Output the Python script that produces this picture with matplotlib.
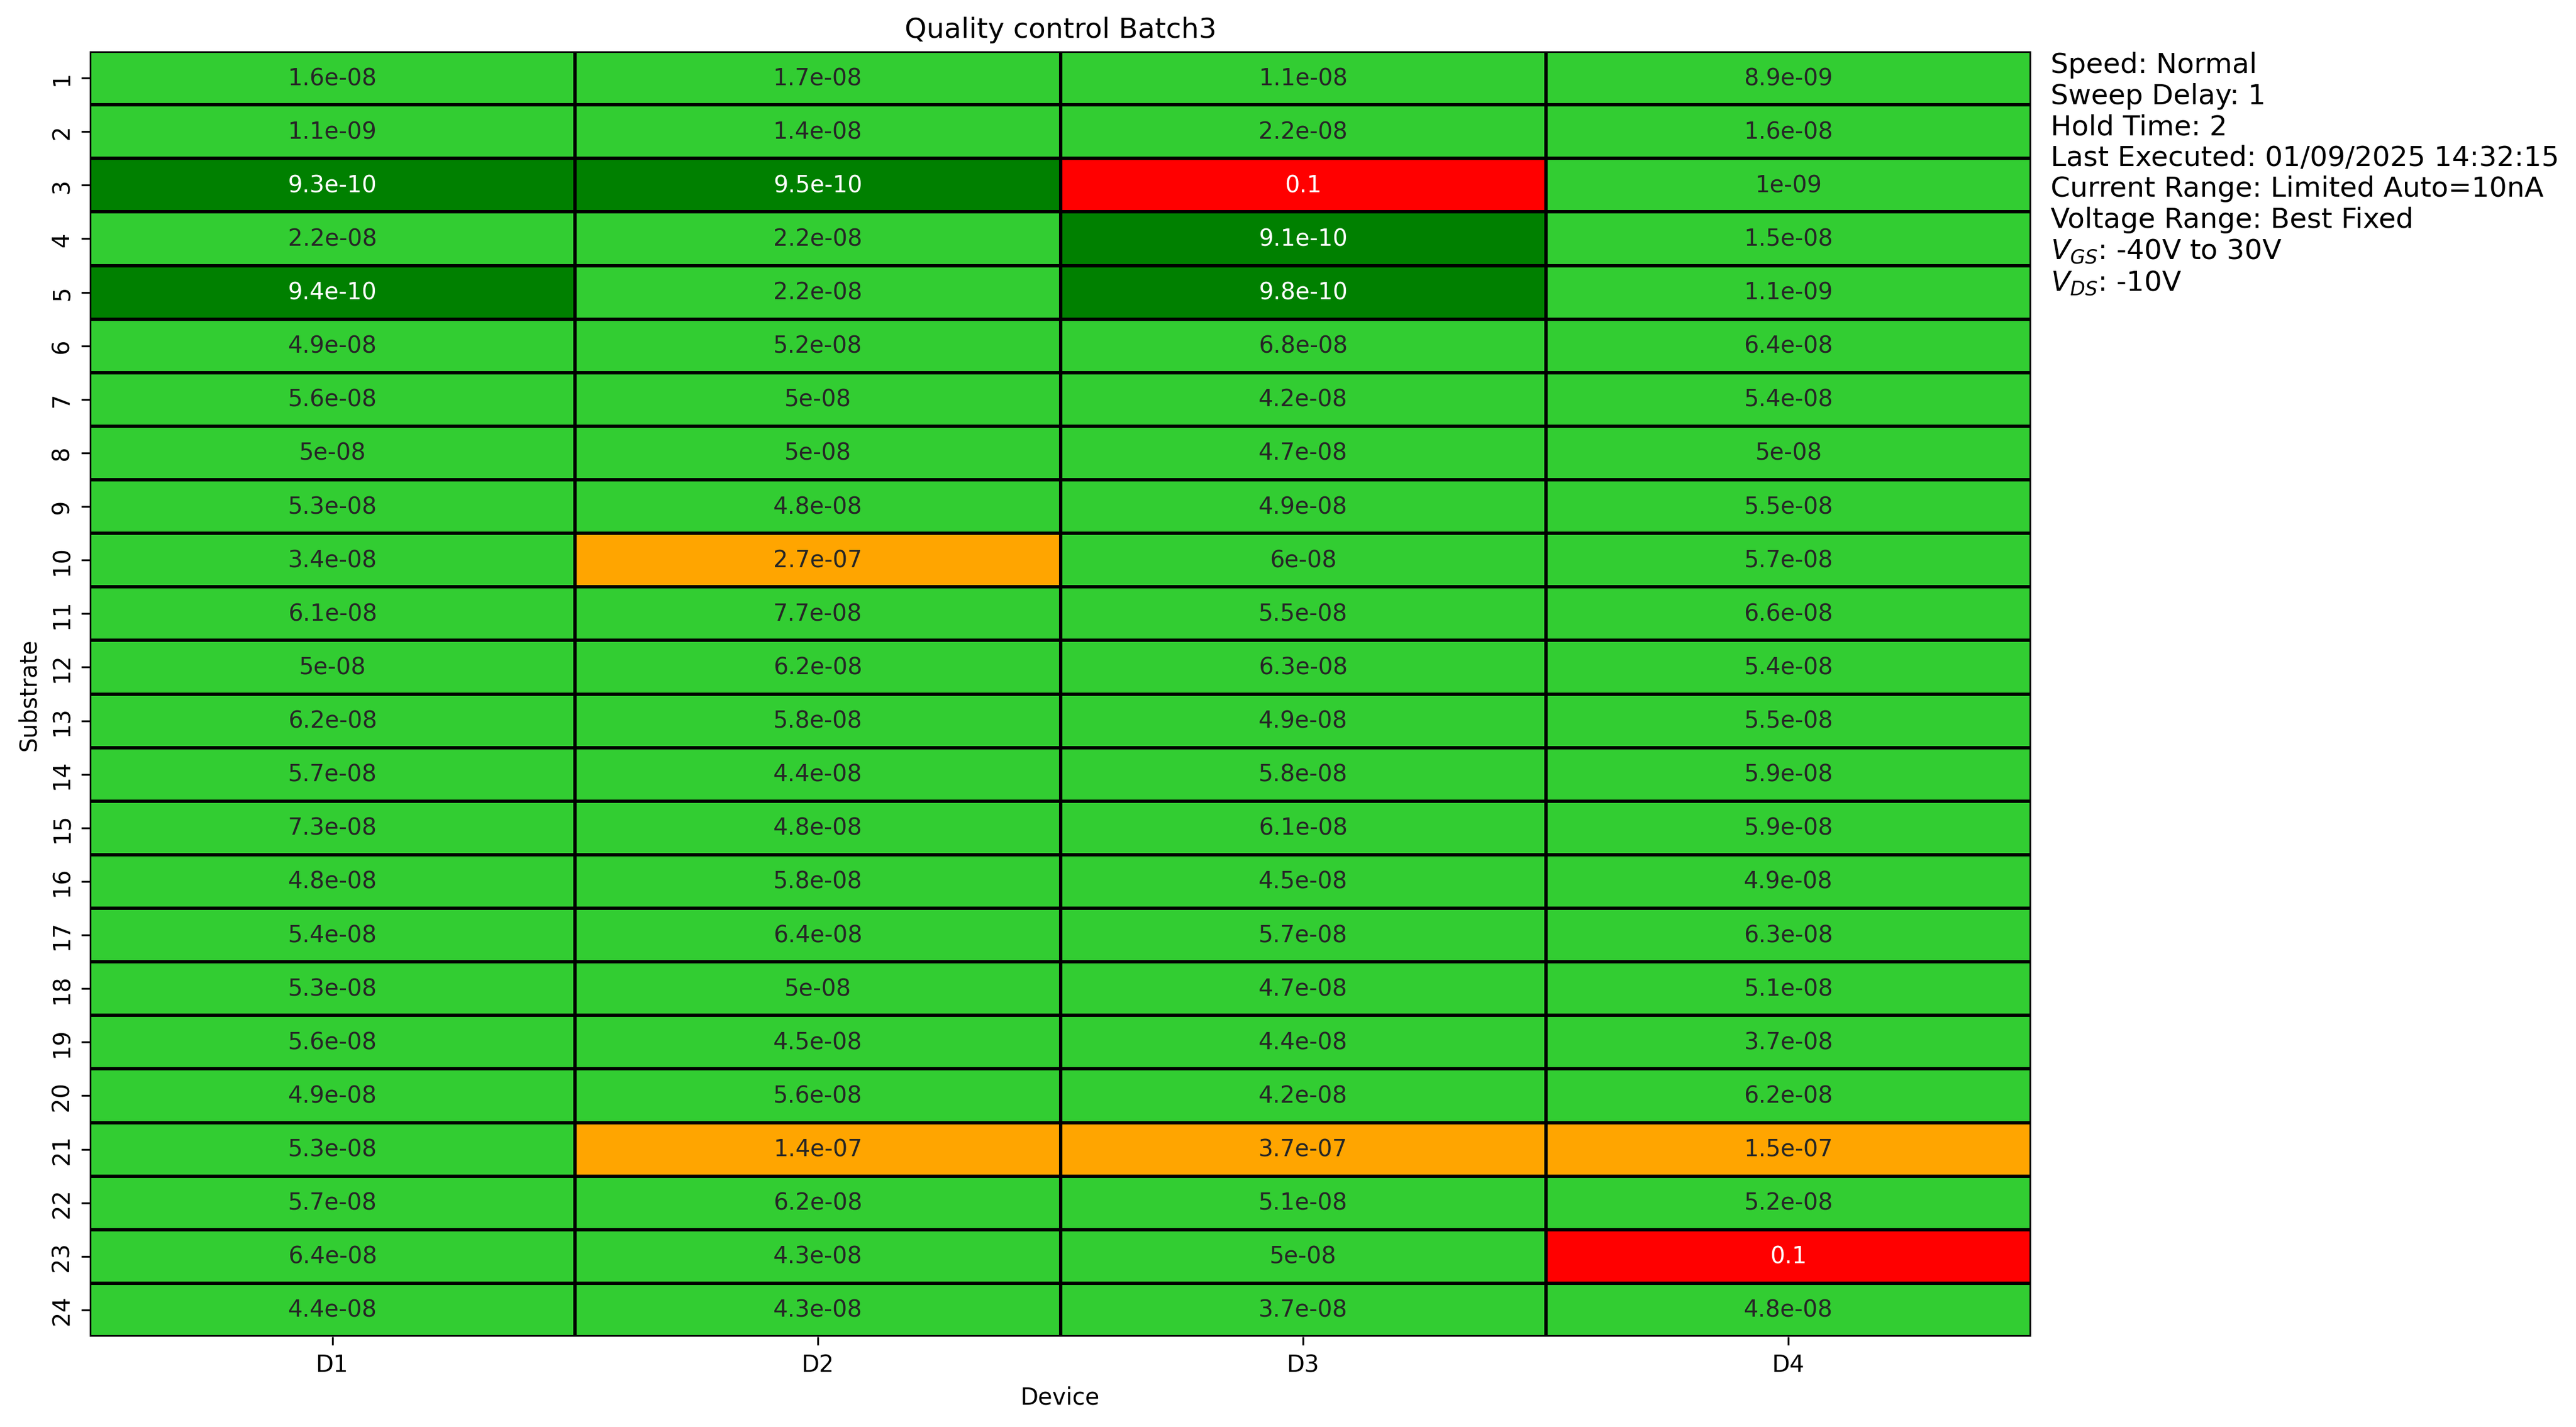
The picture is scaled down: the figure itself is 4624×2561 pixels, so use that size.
import numpy as np
import pandas as pd
import matplotlib
matplotlib.use("Agg")
import matplotlib.pyplot as plt
import seaborn as sns
from matplotlib.colors import ListedColormap, BoundaryNorm

devices = ["D1", "D2", "D3", "D4"]
substrates = [str(i) for i in range(1, 25)]

d1 = [1.6e-08, 1.1e-09, 9.3e-10, 2.2e-08, 9.4e-10, 4.9e-08, 5.6e-08, 5e-08,
      5.3e-08, 3.4e-08, 6.1e-08, 5e-08, 6.2e-08, 5.7e-08, 7.3e-08, 4.8e-08,
      5.4e-08, 5.3e-08, 5.6e-08, 4.9e-08, 5.3e-08, 5.7e-08, 6.4e-08, 4.4e-08]
d2 = [1.7e-08, 1.4e-08, 9.5e-10, 2.2e-08, 2.2e-08, 5.2e-08, 5e-08, 5e-08,
      4.8e-08, 2.7e-07, 7.7e-08, 6.2e-08, 5.8e-08, 4.4e-08, 4.8e-08, 5.8e-08,
      6.4e-08, 5e-08, 4.5e-08, 5.6e-08, 1.4e-07, 6.2e-08, 4.3e-08, 4.3e-08]
d3 = [1.1e-08, 2.2e-08, 0.1, 9.1e-10, 9.8e-10, 6.8e-08, 4.2e-08, 4.7e-08,
      4.9e-08, 6e-08, 5.5e-08, 6.3e-08, 4.9e-08, 5.8e-08, 6.1e-08, 4.5e-08,
      5.7e-08, 4.7e-08, 4.4e-08, 4.2e-08, 3.7e-07, 5.1e-08, 5e-08, 3.7e-08]
d4 = [8.9e-09, 1.6e-08, 1e-09, 1.5e-08, 1.1e-09, 6.4e-08, 5.4e-08, 5e-08,
      5.5e-08, 5.7e-08, 6.6e-08, 5.4e-08, 5.5e-08, 5.9e-08, 5.9e-08, 4.9e-08,
      6.3e-08, 5.1e-08, 3.7e-08, 6.2e-08, 1.5e-07, 5.2e-08, 0.1, 4.8e-08]

bounds = [0, 1e-9, 1e-7, 1e-2, 1]
colors = ["#008000", "#32CD32", "#FFA500", "#FF0000"]

info_lines = [
    "Speed: Normal",
    "Sweep Delay: 1",
    "Hold Time: 2",
    "Last Executed: 01/09/2025 14:32:15",
    "Current Range: Limited Auto=10nA",
    "Voltage Range: Best Fixed",
    r"$V_{GS}$: -40V to 30V",
    r"$V_{DS}$: -10V",
]

df = pd.DataFrame({"D1": d1, "D2": d2, "D3": d3, "D4": d4}, index=substrates)

fig = plt.figure(figsize=(4624 / 300, 2562 / 300), dpi=300)
ax = fig.add_axes([161 / 4624, 1 - 2400 / 2562, (3646 - 161) / 4624, (2400 - 93) / 2562])

cmap = ListedColormap(colors)
norm = BoundaryNorm(bounds, cmap.N)

sns.heatmap(df, ax=ax, cmap=cmap, norm=norm, annot=True, fmt=".2g",
            linewidths=1, linecolor="black", cbar=False,
            annot_kws={"fontsize": 10})

ax.set_title("Quality control Batch3", fontsize=12)
ax.set_xlabel("Device", fontsize=10)
ax.set_ylabel("Substrate", fontsize=10)
ax.tick_params(labelsize=10)

ax.text(1.01, 1.0, "\n".join(info_lines), transform=ax.transAxes,
        fontsize=12, va="top", ha="left")

fig.savefig("out.png", dpi=300)
